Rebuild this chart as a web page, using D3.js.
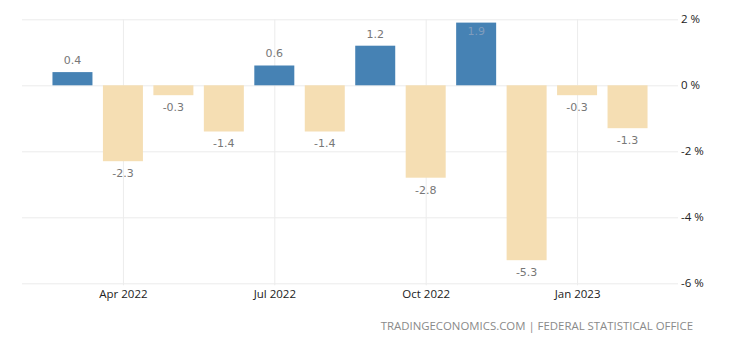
<!DOCTYPE html>
<html><head><meta charset="utf-8">
<script src="https://cdn.jsdelivr.net/npm/d3@7"></script>
<style>body{margin:0;background:#fff}svg{display:block}</style>
</head><body>
<svg id="c" width="740" height="345"></svg>
<script>
const months = ["Mar 2022","Apr 2022","May 2022","Jun 2022","Jul 2022","Aug 2022","Sep 2022","Oct 2022","Nov 2022","Dec 2022","Jan 2023","Feb 2023"];
const values = [0.4,-2.3,-0.3,-1.4,0.6,-1.4,1.2,-2.8,1.9,-5.3,-0.3,-1.3];
const xTicks = ["Apr 2022","Jul 2022","Oct 2022","Jan 2023"];
const yTicks = [2,0,-2,-4,-6];
const source = "TRADINGECONOMICS.COM | FEDERAL STATISTICAL OFFICE";

const svg = d3.select("#c");
const L = 22, R = 678, T = 19.3, B = 283.3;
const x = d3.scalePoint().domain(months).range([L, R]).padding(1);
const y = d3.scaleLinear().domain([-6, 2]).range([B, T]);
const barW = 40;
const font = "'Open Sans', sans-serif";
const valFont = "'DejaVu Sans', sans-serif";

// horizontal grid + y labels
const ya = d3.axisRight(y).tickValues(yTicks).tickSize(R - L).tickPadding(3).tickFormat(d => d + " %");
svg.append("g").attr("transform", `translate(${L},0)`).call(ya)
  .call(g => g.select(".domain").remove())
  .call(g => g.selectAll("line").attr("stroke", "#ececec"))
  .call(g => g.selectAll("text").attr("font-family", font).attr("font-size", "11.5px").attr("fill", "#222"));

// vertical grid + x labels
const xa = d3.axisBottom(x).tickValues(xTicks).tickSize(B - T + 2).tickPadding(5);
svg.append("g").attr("transform", `translate(0,${T})`).call(xa)
  .call(g => g.select(".domain").remove())
  .call(g => g.selectAll("line").attr("stroke", "#ececec"))
  .call(g => g.selectAll("text").attr("font-family", font).attr("font-size", "11.5px").attr("fill", "#222"));

// bars
svg.append("g").selectAll("rect").data(values).join("rect")
  .attr("x", (d, i) => x(months[i]) - barW / 2)
  .attr("width", barW)
  .attr("y", d => y(Math.max(0, d)))
  .attr("height", d => Math.abs(y(d) - y(0)))
  .attr("fill", d => d >= 0 ? "#4682b4" : "#f5deb3");

// value labels
svg.append("g").selectAll("text").data(values).join("text")
  .attr("x", (d, i) => x(months[i]))
  .attr("y", d => d >= 0 ? Math.max(y(d) - 12, y(2) + 12) : y(d) + 12)
  .attr("dy", "0.35em")
  .attr("text-anchor", "middle")
  .attr("font-family", valFont).attr("font-size", "11px")
  .attr("fill", d => y(d) - 12 < y(2) + 12 ? "#7f9cbd" : "#777")
  .text(d => d.toFixed(1));

svg.append("text").attr("x", 693).attr("y", 326).attr("dy", "0.35em")
  .attr("text-anchor", "end").attr("font-family", font).attr("font-size", "11.4px")
  .attr("fill", "#8a8a8a").text(source);
</script>
</body></html>
